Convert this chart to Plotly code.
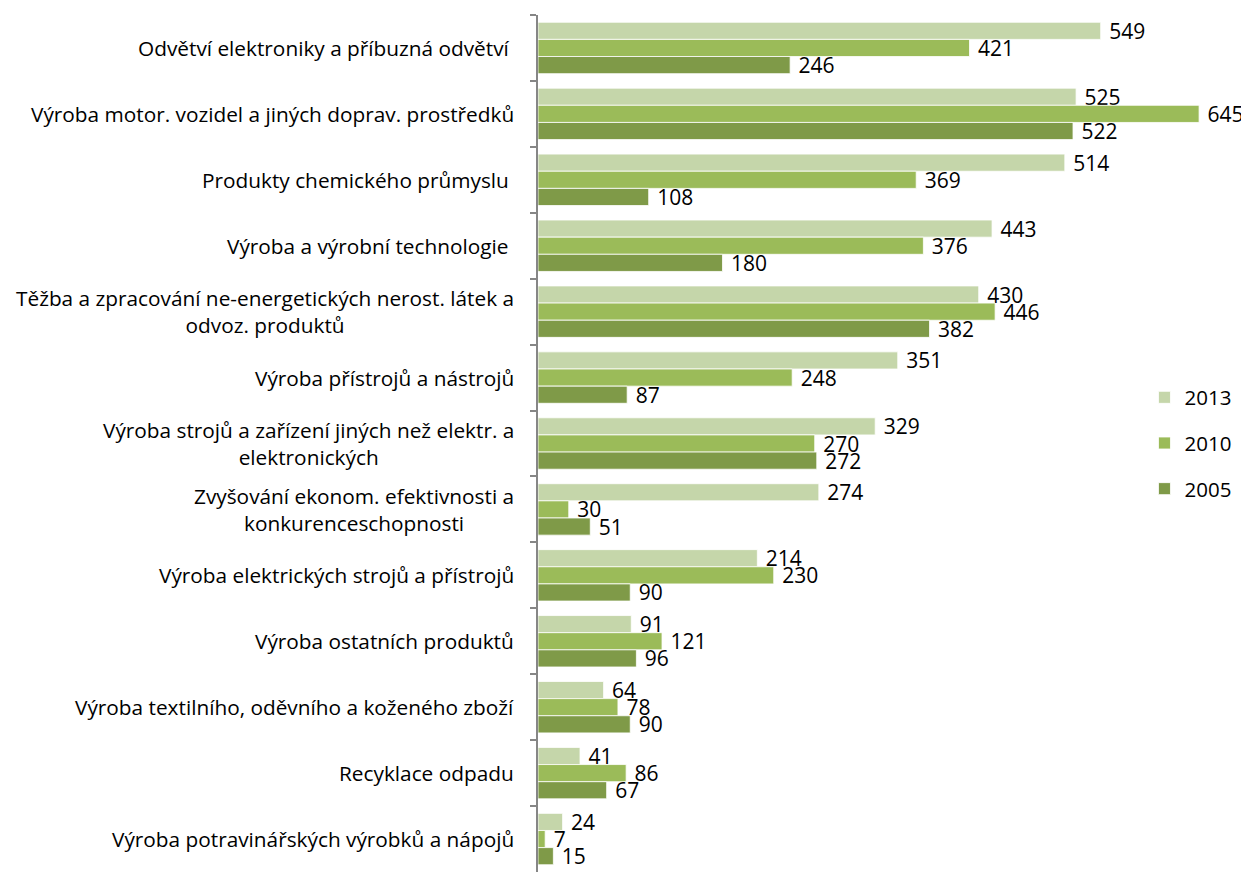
import plotly.graph_objects as go

categories = [
    "Odvětví elektroniky a příbuzná odvětví\u00a0",
    "Výroba motor. vozidel a jiných doprav. prostředků",
    "Produkty chemického průmyslu\u00a0",
    "Výroba a výrobní technologie\u00a0",
    "Těžba a zpracování ne-energetických nerost. látek a<br>odvoz. produktů",
    "Výroba přístrojů a nástrojů",
    "Výroba strojů a zařízení jiných než elektr. a<br>elektronických",
    "Zvyšování ekonom. efektivnosti a<br>konkurenceschopnosti",
    "Výroba elektrických strojů a přístrojů",
    "Výroba ostatních produktů",
    "Výroba textilního, oděvního a koženého zboží",
    "Recyklace odpadu",
    "Výroba potravinářských výrobků a nápojů",
]
keys = [f"c{i}" for i in range(len(categories))]

series_names = ["2013", "2010", "2005"]
v2013 = [549, 525, 514, 443, 430, 351, 329, 274, 214, 91, 64, 41, 24]
v2010 = [421, 645, 369, 376, 446, 248, 270, 30, 230, 121, 78, 86, 7]
v2005 = [246, 522, 108, 180, 382, 87, 272, 51, 90, 96, 90, 67, 15]
colors = ["#C5D6AA", "#9BBB59", "#7F9A48"]

FONT = "Open Sans"
fig = go.Figure()
for name, vals, col in zip(series_names, [v2013, v2010, v2005], colors):
    fig.add_trace(go.Bar(
        y=keys, x=vals, orientation="h", name=name, legendgroup=name,
        marker=dict(color=col, line=dict(color="white", width=0.8)),
        text=vals, texttemplate="\u00a0%{x}", textposition="outside",
        constraintext="none",
        textfont=dict(family=FONT, size=21, color="black"),
        cliponaxis=False,
    ))

for k, c in zip(keys, categories):
    fig.add_annotation(x=0, xref="paper", y=k, yref="y", text=c,
                       xanchor="right", xshift=-22, align="center",
                       showarrow=False,
                       font=dict(family=FONT, size=20.8, color="black"))

fig.update_layout(
    width=1241, height=864,
    margin=dict(l=530, r=0, t=7, b=0, autoexpand=False),
    barmode="group", bargap=0.22, bargroupgap=0,
    plot_bgcolor="white", paper_bgcolor="white",
    font=dict(family=FONT, size=20, color="black"),
    legend=dict(x=0.853, y=0.577, xanchor="left", yanchor="top",
                tracegroupgap=16, font=dict(size=20.5), traceorder="grouped"),
    uniformtext=dict(mode=False),
)
fig.update_xaxes(range=[0, 693.7], showticklabels=False, showgrid=False,
                 zeroline=False, showline=False, automargin=False)
fig.update_yaxes(autorange="reversed", showticklabels=False, showgrid=False,
                 showline=True, linecolor="#868686", linewidth=1.5,
                 ticks="outside", tickson="boundaries", ticklen=6,
                 tickcolor="#868686", tickwidth=1.5, automargin=False)

fig.write_html("out.html")
